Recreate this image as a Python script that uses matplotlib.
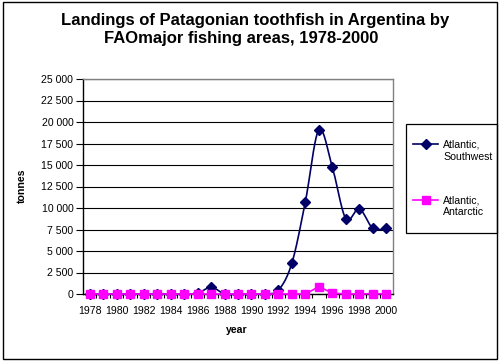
import numpy as np
import matplotlib
matplotlib.use("Agg")
import matplotlib.pyplot as plt
from matplotlib.patches import Rectangle
from matplotlib.lines import Line2D

plt.rcParams['font.family'] = ['Liberation Sans', 'DejaVu Sans']

years = list(range(1978, 2001))
southwest = [0, 0, 0, 0, 0, 50, 0, 30, 60, 800, 0, 0, 0, 20, 450, 3600,
             10750, 19100, 14750, 8750, 9900, 7650, 7650]
antarctic = [0, 0, 0, 0, 0, 0, 0, 0, 0, 0, 0, 0, 0, 0, 0, 0,
             0, 850, 100, 0, 0, 50, 0]
series_names = ["Atlantic,\nSouthwest", "Atlantic,\nAntarctic"]
title_lines = ["Landings of Patagonian toothfish in Argentina by",
               "FAOmajor fishing areas, 1978-2000"]
yticks = list(range(0, 25001, 2500))
xtick_years = list(range(1978, 2001, 2))


def smooth(x, y, n=20):
    x = np.asarray(x, float)
    y = np.asarray(y, float)
    px = np.concatenate([[x[0]], x, [x[-1]]])
    py = np.concatenate([[y[0]], y, [y[-1]]])
    ox, oy = [], []
    t = np.linspace(0, 1, n, endpoint=False)
    for i in range(1, len(px) - 2):
        p0x, p1x, p2x, p3x = px[i - 1:i + 3]
        p0y, p1y, p2y, p3y = py[i - 1:i + 3]
        c1x = p1x + (p2x - p0x) / 6
        c1y = p1y + (p2y - p0y) / 6
        c2x = p2x - (p3x - p1x) / 6
        c2y = p2y - (p3y - p1y) / 6
        bx = (1 - t) ** 3 * p1x + 3 * (1 - t) ** 2 * t * c1x + 3 * (1 - t) * t ** 2 * c2x + t ** 3 * p2x
        by = (1 - t) ** 3 * p1y + 3 * (1 - t) ** 2 * t * c1y + 3 * (1 - t) * t ** 2 * c2y + t ** 3 * p2y
        ox.extend(bx)
        oy.extend(by)
    ox.append(x[-1])
    oy.append(y[-1])
    return np.array(ox), np.array(oy)


W, H = 500, 362
fig = plt.figure(figsize=(W / 100, H / 100), dpi=100)
fig.patch.set_facecolor('white')


def fx(px):
    return px / W


def fy(py):
    return 1 - py / H


# outer chart frame
fig.add_artist(Rectangle((fx(3), fy(359)), fx(494), 357 / H, transform=fig.transFigure,
                         fill=False, edgecolor='black', linewidth=1.0))

ax = fig.add_axes([fx(83), fy(294), fx(310), (294 - 79) / H])
ax.set_xlim(1977.5, 2000.5)
ax.set_ylim(0, 25000)

navy = '#000066'
magenta = '#ff00ff'
fs = 7.6

sx, sy = smooth(years, southwest)
ax.plot(sx, sy, color=navy, linewidth=1.2, zorder=3, clip_on=False)
ax.plot(years, southwest, linestyle='none', marker='D', markersize=5,
        color=navy, zorder=4, clip_on=False)
ax.plot(years, antarctic, color=magenta, linewidth=1.2, marker='s',
        markersize=5.8, zorder=5, clip_on=False)

ax.set_yticks(yticks)
ax.set_yticklabels([f"{v:,}".replace(",", " ") for v in yticks], fontsize=fs)
ax.set_xticks(xtick_years)
ax.set_xticklabels([str(y) for y in xtick_years], fontsize=fs)
ax.set_xticks([y + 0.5 for y in years[:-1]], minor=True)
ax.tick_params(axis='x', which='major', length=0, pad=9)
ax.tick_params(axis='x', which='minor', length=3, direction='out', width=0.8)
ax.tick_params(axis='y', length=5, direction='out', width=0.8, pad=2)

ax.yaxis.grid(True, color='black', linewidth=0.8)
ax.set_axisbelow(True)
for s in ['top', 'right']:
    ax.spines[s].set_color('#808080')
    ax.spines[s].set_linewidth(1.0)
for s in ['left', 'bottom']:
    ax.spines[s].set_color('black')
    ax.spines[s].set_linewidth(1.0)

fig.text(fx(237), fy(330), 'year', fontsize=fs, fontweight='bold',
         ha='center', va='center')
fig.text(fx(22), fy(186), 'tonnes', fontsize=fs, fontweight='bold',
         ha='center', va='center', rotation=90)

fig.text(fx(255), fy(20), title_lines[0], ha='center', va='center',
         fontsize=12, fontweight='bold')
fig.text(fx(241), fy(39), title_lines[1], ha='center', va='center',
         fontsize=12, fontweight='bold')

# legend (manual layout to match the reference)
fig.add_artist(Rectangle((fx(406), fy(233)), fx(91), 109 / H,
                         transform=fig.transFigure, fill=False,
                         edgecolor='black', linewidth=0.9))
legend_rows = [(series_names[0], navy, 'D', 5, 144),
               (series_names[1], magenta, 's', 5.8, 200)]
for name, col, mk, ms, yy in legend_rows:
    fig.add_artist(Line2D([fx(413), fx(438)], [fy(yy), fy(yy)],
                          transform=fig.transFigure, color=col, linewidth=1.2))
    fig.add_artist(Line2D([fx(426)], [fy(yy)], transform=fig.transFigure,
                          color=col, marker=mk, markersize=ms, linestyle='none'))
    fig.text(fx(443), fy(yy + 6.5), name, fontsize=fs, ha='left', va='center',
             linespacing=1.25)

fig.savefig('out.png', dpi=100)
